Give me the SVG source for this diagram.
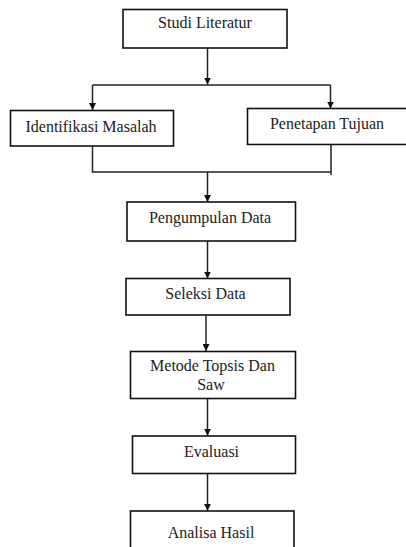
<svg xmlns="http://www.w3.org/2000/svg" width="406" height="547" viewBox="0 0 406 547">
<defs>
<style>
.box{fill:#fff;stroke:#111;stroke-width:1.6}
.lbl{font-family:"Liberation Serif","Times New Roman",serif;font-size:16px;fill:#222;text-anchor:middle}
.con{fill:none;stroke:#222;stroke-width:1.5}
</style>
<marker id="ah" markerUnits="userSpaceOnUse" markerWidth="7" markerHeight="7" refX="7" refY="3.5" orient="auto">
<path d="M0,0 L7,3.5 L0,7 z" fill="#111"/>
</marker>
</defs>
<rect width="406" height="547" fill="#fff"/>
<g id="connectors">
<path class="con" d="M207.5,48 V84.5" marker-end="url(#ah)"/>
<path class="con" d="M92.5,85 H330.5"/>
<path class="con" d="M92.5,85 V110" marker-end="url(#ah)"/>
<path class="con" d="M330.5,85 V108.5" marker-end="url(#ah)"/>
<path class="con" d="M92.5,146 V172 H331 M331,144 V175"/>
<path class="con" d="M207.5,172 V202" marker-end="url(#ah)"/>
<path class="con" d="M207.5,241 V278.5" marker-end="url(#ah)"/>
<path class="con" d="M206,315 V351" marker-end="url(#ah)"/>
<path class="con" d="M207.5,398.5 V435.8" marker-end="url(#ah)"/>
<path class="con" d="M207.5,473.5 V510.8" marker-end="url(#ah)"/>
</g>
<g id="studi-literatur">
<rect class="box" x="123" y="9.5" width="164" height="38.5"/>
<text class="lbl" x="205" y="28">Studi Literatur</text>
</g>
<g id="identifikasi-masalah">
<rect class="box" x="10.5" y="110.5" width="163" height="35.5"/>
<text class="lbl" x="91" y="132">Identifikasi Masalah</text>
</g>
<g id="penetapan-tujuan">
<rect class="box" x="247.5" y="108.5" width="161" height="36"/>
<text class="lbl" x="327" y="129">Penetapan Tujuan</text>
</g>
<g id="pengumpulan-data">
<rect class="box" x="127" y="202" width="168.5" height="39"/>
<text class="lbl" x="210" y="223">Pengumpulan Data</text>
</g>
<g id="seleksi-data">
<rect class="box" x="126" y="278.5" width="164" height="36.5"/>
<text class="lbl" x="205.5" y="298.5">Seleksi Data</text>
</g>
<g id="metode-topsis-saw">
<rect class="box" x="130.5" y="351.5" width="165" height="47"/>
<text class="lbl" x="212.5" y="371">Metode Topsis Dan</text>
<text class="lbl" x="211" y="389.5">Saw</text>
</g>
<g id="evaluasi">
<rect class="box" x="132.5" y="436" width="163" height="37.5"/>
<text class="lbl" x="211.5" y="456.5">Evaluasi</text>
</g>
<g id="analisa-hasil">
<rect class="box" x="130.5" y="511" width="163.5" height="45"/>
<text class="lbl" x="211" y="538">Analisa Hasil</text>
</g>
</svg>
